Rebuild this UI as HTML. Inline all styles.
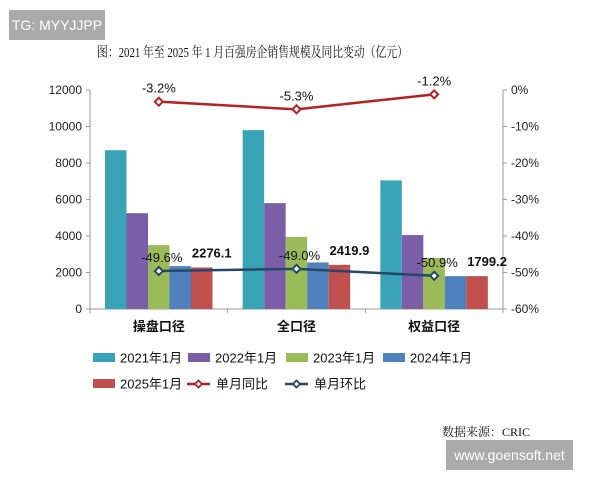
<!DOCTYPE html>
<html><head><meta charset="utf-8"><style>
body{margin:0;background:#fff;width:600px;height:480px;overflow:hidden;position:relative;font-family:"Liberation Sans","Noto Sans CJK SC",sans-serif}
.wm{position:absolute;background:#aaa;color:#fff}
</style></head><body>
<div class="wm" style="left:9px;top:10px;width:96px;height:30px;font-size:14px;line-height:30px;text-align:center">TG: MYYJJPP</div>
<div class="wm" style="left:446px;top:440px;width:127px;height:30px;font-size:14px;line-height:30px;text-align:center">www.goensoft.net</div>
<svg id="c" width="600" height="480" style="position:absolute;left:0;top:0"></svg>
<script>
const categories=["操盘口径","全口径","权益口径"];
const seriesNames=["2021年1月","2022年1月","2023年1月","2024年1月","2025年1月"];
const s2021=[8700,9800,7050];
const s2022=[5250,5800,4050];
const s2023=[3500,3950,2800];
const s2024=[2350,2550,1800];
const s2025=[2276.1,2419.9,1799.2];
const yoy=[-3.2,-5.3,-1.2];
const mom=[-49.6,-49.0,-50.9];
const leftTicks=[0,2000,4000,6000,8000,10000,12000];
const rightTicks=[0,-10,-20,-30,-40,-50,-60];
const colors=["#3ba3b8","#7b5ea8","#9bbb59","#4f81bd","#c0504d"];
const series=[s2021,s2022,s2023,s2024,s2025];
const svg=document.getElementById('c');const NS="http://www.w3.org/2000/svg";
function el(t,a,txt){const e=document.createElementNS(NS,t);for(const k in a)e.setAttribute(k,a[k]);if(txt!=null)e.textContent=txt;svg.appendChild(e);return e;}
const X0=90,X1=503,Y0=309,Y1=90;
const yL=v=>Y0-(v/12000)*(Y0-Y1);
const yR=v=>Y1+(-v/60)*(Y0-Y1);
const cw=(X1-X0)/categories.length;
const bw=21.5;
const t=el('text',{x:97,y:57,textLength:311,lengthAdjust:'spacingAndGlyphs','font-size':14,'font-family':'"Liberation Serif","Noto Serif CJK SC",serif',fill:'#111'},'图：2021 年至 2025 年 1 月百强房企销售规模及同比变动（亿元）');

el('line',{x1:X0,y1:Y1,x2:X0,y2:Y0,stroke:'#999'});
el('line',{x1:X1,y1:Y1,x2:X1,y2:Y0,stroke:'#999'});
el('line',{x1:X0,y1:Y0,x2:X1,y2:Y0,stroke:'#999'});
leftTicks.forEach(v=>{const y=yL(v);el('line',{x1:X0-4,y1:y,x2:X0,y2:y,stroke:'#999'});
const e=el('text',{x:X0-8,y:y+4,'text-anchor':'end','font-size':12,fill:'#222'},v);});
rightTicks.forEach(v=>{const y=yR(v);el('line',{x1:X1,y1:y,x2:X1+4,y2:y,stroke:'#999'});
const e=el('text',{x:X1+8,y:y+4,'font-size':12,fill:'#222'},v+'%');});
for(let i=0;i<=categories.length;i++){const x=X0+i*cw;el('line',{x1:x,y1:Y0,x2:x,y2:Y0+4,stroke:'#999'});}
categories.forEach((c,i)=>{const e=el('text',{x:X0+cw*(i+0.5),y:331,'text-anchor':'middle','font-size':13,'font-weight':'bold',fill:'#111'},c);});
series.forEach((s,j)=>s.forEach((v,i)=>{const x=X0+cw*i+15+j*bw;const r=el('rect',{x:x,y:yL(v),width:bw,height:Y0-yL(v),fill:colors[j]});
}));
s2025.forEach((v,i)=>{const e=el('text',{x:X0+cw*i+15+4*bw+bw/2+10,y:yL(v)-10,'text-anchor':'middle','font-size':13,'font-weight':'bold',fill:'#111'},v.toFixed(1));});
function line(data,col,name,dy,dx){const cx=i=>X0+cw*(i+0.5);
const p=el('polyline',{points:data.map((v,i)=>cx(i)+','+yR(v)).join(' '),fill:'none',stroke:col,'stroke-width':2.5});
data.forEach((v,i)=>{const x=cx(i),y=yR(v);const m=el('path',{d:`M${x-4} ${y}L${x} ${y-4}L${x+4} ${y}L${x} ${y+4}Z`,fill:'#fff',stroke:col,'stroke-width':2});
const e=el('text',{x:x+dx,y:y+dy,'text-anchor':'middle','font-size':13,fill:'#111'},v.toFixed(1)+'%');});}
line(yoy,'#b22222','yoy',-9,0);
line(mom,'#24476b','mom',-9,3);
const leg=[[93,358,0],[188,358,1],[286,358,2],[383,358,3],[93,384,4]];
leg.forEach(([x,y,j])=>{const r=el('rect',{x:x,y:y-5,width:22,height:9,fill:colors[j]});
const e=el('text',{x:x+27,y:y+4.5,'font-size':13,fill:'#111'},seriesNames[j]);});
[[187,'#b22222','单月同比'],[285,'#24476b','单月环比']].forEach(([x,col,n])=>{const y=384;el('line',{x1:x,y1:y,x2:x+23,y2:y,stroke:col,'stroke-width':2.5});
el('path',{d:`M${x+8} ${y}L${x+11.5} ${y-3.5}L${x+15} ${y}L${x+11.5} ${y+3.5}Z`,fill:'#fff',stroke:col,'stroke-width':1.8});
const e=el('text',{x:x+29,y:y+4.5,'font-size':13,fill:'#111'},n);});
const src=el('text',{x:442,y:436,'font-size':12,'font-family':'"Liberation Serif","Noto Serif CJK SC",serif',fill:'#111'},'数据来源：CRIC');

</script>
</body></html>
